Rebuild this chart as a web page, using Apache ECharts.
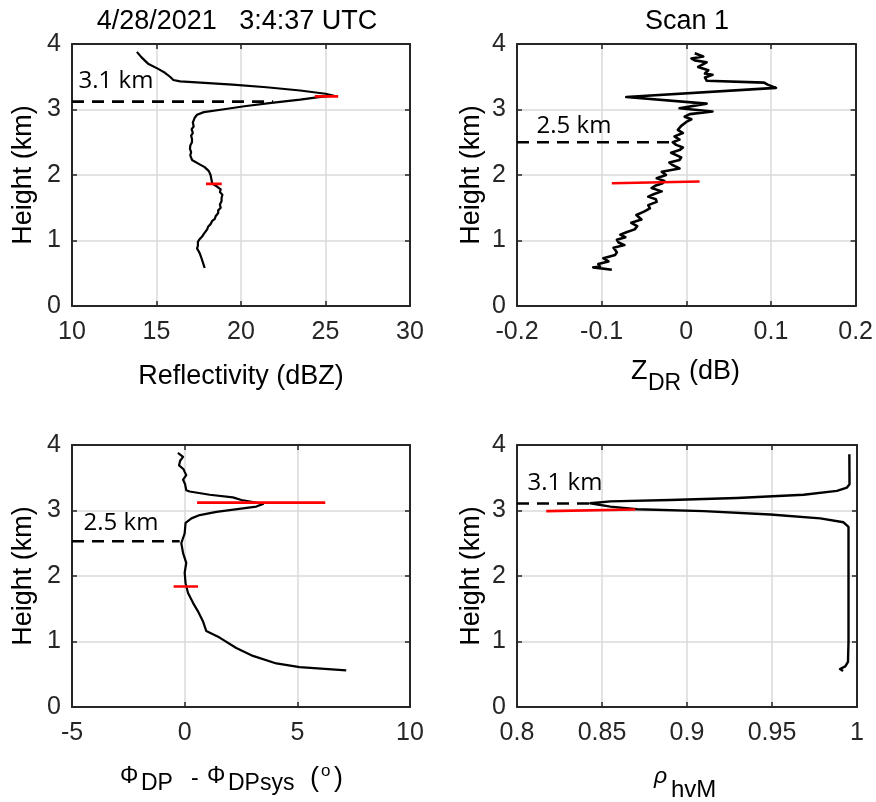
<!DOCTYPE html>
<html><head><meta charset="utf-8">
<script src="https://cdn.jsdelivr.net/npm/echarts@6/dist/echarts.min.js"></script>
<style>html,body{margin:0;padding:0;background:#fff}#c{width:876px;height:802px}</style>
</head><body><div id="c"></div>
<script>
// ---------- Data ----------
const titleText = '4/28/2021   3:4:37 UTC';
const scanText = 'Scan 1';

// Reflectivity profile (height km, dBZ)
const reflHeight = [3.88,3.80,3.70,3.62,3.56,3.50,3.45,3.43,3.41,3.38,3.34,3.29,3.24,3.21,3.19,3.15,3.10,3.05,3.00,2.96,2.92,2.87,2.80,2.74,2.70,2.64,2.60,2.55,2.50,2.45,2.40,2.35,2.30,2.23,2.17,2.12,2.06,2.00,1.93,1.87,1.82,1.78,1.74,1.70,1.65,1.60,1.55,1.50,1.46,1.42,1.37,1.33,1.30,1.25,1.21,1.17,1.14,1.10,1.06,1.02,0.98,0.95,0.92,0.88,0.85,0.81,0.78,0.74,0.70,0.66,0.62,0.58];
const reflValue  = [13.84,14.1,14.5,15.1,15.5,15.8,16.0,16.4,17.6,19.5,21.5,23.5,25.0,25.5,24.6,23.5,21.8,20.2,18.9,17.8,17.4,17.25,17.15,17.2,17.08,17.15,17.05,17.1,17.1,17.0,16.98,17.05,17.0,17.1,17.5,17.85,18.1,18.2,18.25,18.3,18.6,18.8,18.75,18.9,18.85,18.85,18.75,18.8,18.65,18.65,18.5,18.45,18.3,18.2,18.05,18.0,17.9,17.8,17.7,17.55,17.45,17.5,17.45,17.4,17.5,17.55,17.6,17.65,17.7,17.75,17.8,17.85];

// ZDR profile (height km, dB)
const zdrHeight = [3.86,3.81,3.78,3.75,3.72,3.69,3.65,3.60,3.55,3.53,3.49,3.44,3.41,3.38,3.33,3.19,3.09,3.02,2.97,2.93,2.89,2.85,2.81,2.75,2.69,2.64,2.59,2.54,2.50,2.46,2.42,2.38,2.34,2.31,2.27,2.23,2.19,2.15,2.10,2.08,2.05,2.00,1.95,1.91,1.875,1.84,1.80,1.75,1.71,1.67,1.63,1.59,1.54,1.49,1.44,1.39,1.32,1.27,1.22,1.17,1.13,1.09,1.05,1.01,0.97,0.93,0.89,0.86,0.82,0.78,0.73,0.68,0.64,0.60,0.59,0.553];
const zdrValue  = [0.010,0.020,0.006,0.010,0.024,0.022,0.014,0.026,0.022,0.031,0.022,0.024,0.092,0.096,0.106,-0.071,0.024,-0.008,0.031,0.004,-0.002,0.006,0.000,-0.006,-0.010,-0.004,-0.014,-0.008,-0.016,-0.012,-0.004,-0.008,-0.018,-0.020,-0.006,-0.008,-0.020,-0.016,-0.008,-0.016,-0.029,-0.024,-0.035,-0.026,-0.028,-0.036,-0.041,-0.029,-0.038,-0.045,-0.036,-0.035,-0.045,-0.043,-0.050,-0.059,-0.053,-0.065,-0.058,-0.061,-0.070,-0.078,-0.072,-0.082,-0.080,-0.073,-0.086,-0.088,-0.082,-0.084,-0.098,-0.092,-0.104,-0.102,-0.110,-0.088];

// Phi_DP - Phi_DPsys profile (height km, degrees)
const phiHeight = [3.88,3.82,3.76,3.69,3.63,3.59,3.54,3.47,3.40,3.31,3.29,3.24,3.20,3.16,3.10,3.06,2.98,2.93,2.88,2.81,2.65,2.50,2.35,2.20,2.05,1.89,1.74,1.59,1.46,1.31,1.16,1.06,0.90,0.78,0.665,0.61,0.56];
const phiValue  = [-0.30,-0.07,-0.20,-0.25,-0.05,0.00,0.07,-0.07,0.02,0.07,0.22,1.11,2.14,2.52,3.48,3.18,1.41,0.67,0.30,0.04,0.00,-0.15,-0.07,0.07,0.00,0.04,0.15,0.37,0.59,0.81,0.96,1.55,2.29,3.03,4.07,5.10,7.17];

// rho_hvM profile (height km, -)
const rhoHeight = [3.86,3.40,3.35,3.30,3.24,3.19,3.16,3.14,3.11,3.06,3.02,2.99,2.94,2.88,2.82,2.75,2.01,1.00,0.69,0.62,0.58,0.55];
const rhoValue  = [0.9955,0.9956,0.9941,0.9882,0.9686,0.9294,0.8902,0.8549,0.8431,0.8549,0.8706,0.9098,0.949,0.9784,0.9921,0.995,0.995,0.995,0.9947,0.9931,0.990,0.9918];

// Red marker segments: [height start, height end], [value start, value end]
const reflRedA = {h:[3.20,3.20], v:[24.37,25.75]};
const reflRedB = {h:[1.865,1.865], v:[17.93,18.86]};
const zdrRed   = {h:[1.875,1.90], v:[-0.088,0.0157]};
const phiRedA  = {h:[3.12,3.12], v:[0.55,6.24]};
const phiRedB  = {h:[1.84,1.84], v:[-0.49,0.59]};
const rhoRed   = {h:[2.99,3.015], v:[0.8172,0.8696]};

// Dashed reference heights: [height], [value start, value end]
const reflDash = {h:3.12, v:[10,21.9], label:'3.1 km'};
const zdrDash  = {h:2.50, v:[-0.2,-0.0196], label:'2.5 km'};
const phiDash  = {h:2.53, v:[-5,-0.22], label:'2.5 km'};
const rhoDash  = {h:3.106, v:[0.8,0.843], label:'3.1 km'};

// Axis ranges and ticks
const xRanges = [ {min:10,max:30,interval:5}, {min:-0.2,max:0.2,interval:0.1}, {min:-5,max:10,interval:5}, {min:0.8,max:1,interval:0.05} ];
const yRange = {min:0,max:4,interval:1};

// ---------- Build ----------
const FONT = 'Liberation Sans, Arial, sans-serif';
const AXC = '#262626';
const TICKF = 25;
const LABF = 27;
const grids = [
  {left:72, top:44, width:338, height:262},
  {left:517, top:44, width:340, height:262},
  {left:72, top:445, width:338, height:262},
  {left:517, top:445, width:340, height:262}
];
const xAxis = [], yAxis = [];
grids.forEach((g,i)=>{
  const r = xRanges[i];
  xAxis.push({type:'value', gridIndex:i, position:'bottom', min:r.min, max:r.max, interval:r.interval,
    axisLine:{show:true, onZero:false, lineStyle:{color:AXC,width:2}},
    axisTick:{show:true, inside:true, length:5, lineStyle:{color:AXC,width:1.5}},
    axisLabel:{show:true, margin:14, color:'#262626', fontSize:TICKF, fontFamily:FONT,
      formatter:v=>String(Math.round(v*1000)/1000)},
    splitLine:{show:true, lineStyle:{color:'#dadada', width:1.5}}});
  xAxis.push({type:'value', gridIndex:i, position:'top', min:r.min, max:r.max, interval:r.interval,
    axisLine:{show:true, onZero:false, lineStyle:{color:AXC,width:2}},
    axisTick:{show:true, inside:true, length:5, lineStyle:{color:AXC,width:1.5}},
    axisLabel:{show:false}, splitLine:{show:false}});
  yAxis.push({type:'value', gridIndex:i, position:'left', min:yRange.min, max:yRange.max, interval:yRange.interval,
    axisLine:{show:true, onZero:false, lineStyle:{color:AXC,width:2}},
    axisTick:{show:true, inside:true, length:5, lineStyle:{color:AXC,width:1.5}},
    axisLabel:{show:true, margin:11, color:'#262626', fontSize:TICKF, fontFamily:FONT},
    splitLine:{show:true, lineStyle:{color:'#dadada', width:1.5}}});
  yAxis.push({type:'value', gridIndex:i, position:'right', min:yRange.min, max:yRange.max, interval:yRange.interval,
    axisLine:{show:true, onZero:false, lineStyle:{color:AXC,width:2}},
    axisTick:{show:true, inside:true, length:5, lineStyle:{color:AXC,width:1.5}},
    axisLabel:{show:false}, splitLine:{show:false}});
});

function pairs(vals, hts){ return vals.map((v,k)=>[v,hts[k]]); }
function profile(i, vals, hts, w){
  return {type:'line', xAxisIndex:2*i, yAxisIndex:2*i, data:pairs(vals,hts), symbol:'none',
    lineStyle:{color:'#000', width:w||2.2, join:'round'}, z:3, silent:true};
}
function red(i, seg){
  return {type:'line', xAxisIndex:2*i, yAxisIndex:2*i, data:pairs(seg.v, seg.h), symbol:'none',
    lineStyle:{color:'#ff0000', width:2.6}, z:4, silent:true};
}
function dash(i, d){
  return {type:'line', xAxisIndex:2*i, yAxisIndex:2*i, data:pairs(d.v,[d.h,d.h]), symbol:'none',
    lineStyle:{color:'#000', width:2.6, type:[12,8]}, z:3, silent:true};
}

const series = [
  dash(0,reflDash), profile(0,reflValue,reflHeight,2.2), red(0,reflRedA), red(0,reflRedB),
  dash(1,zdrDash), profile(1,zdrValue,zdrHeight,2.6), red(1,zdrRed),
  dash(2,phiDash), profile(2,phiValue,phiHeight,2.2), red(2,phiRedA), red(2,phiRedB),
  dash(3,rhoDash), profile(3,rhoValue,rhoHeight,2.4), red(3,rhoRed)
];

function txt(x,y,text,size,opts){
  return Object.assign({type:'text', x:x, y:y, z:10, style:Object.assign({text:text, fill:'#000', fontSize:size,
    fontFamily:FONT, textAlign:'left', textVerticalAlign:'middle'}, opts||{})});
}
function vtxt(x,y,text){
  return Object.assign(txt(x,y,text,LABF,{textAlign:'center'}),{rotation:Math.PI/2});
}
const ANN = 'Open Sans, Noto Sans, sans-serif';
const graphic = [
  txt(237,22,titleText,LABF,{textAlign:'center'}),
  txt(687,22,scanText,LABF,{textAlign:'center'}),
  vtxt(24,175,'Height (km)'), vtxt(24,576,'Height (km)'),
  vtxt(472,175,'Height (km)'), vtxt(472,576,'Height (km)'),
  txt(241,377,'Reflectivity (dBZ)',LABF,{textAlign:'center'}),
  // Z_DR (dB)
  txt(631,372,'Z',LABF), txt(648,384,'DR',23), txt(689,372,'(dB)',LABF),
  // Phi_DP - Phi_DPsys (o)
  txt(120,777,'\u03A6',23), txt(141,784,'DP',23), txt(191,779,'-',23),
  txt(207,777,'\u03A6',23), txt(228,784,'DPsys',23),
  txt(310,779,'(',LABF), txt(321,771,'o',17), txt(334,779,')',LABF),
  // rho_hvM
  txt(654,777,'\u03C1',23,{fontStyle:'italic'}), txt(671,790,'hvM',24),
  // annotations
  txt(116,81,reflDash.label,24,{textAlign:'center', fontFamily:ANN}),
  txt(574,126,zdrDash.label,24,{textAlign:'center', fontFamily:ANN}),
  txt(121,523,phiDash.label,24,{textAlign:'center', fontFamily:ANN}),
  txt(565,483,rhoDash.label,24,{textAlign:'center', fontFamily:ANN})
];

const chart = echarts.init(document.getElementById('c'), null, {renderer:'canvas'});
chart.setOption({
  animation:false, backgroundColor:'#fff',
  grid:grids, xAxis:xAxis, yAxis:yAxis, series:series, graphic:graphic
});
</script></body></html>
